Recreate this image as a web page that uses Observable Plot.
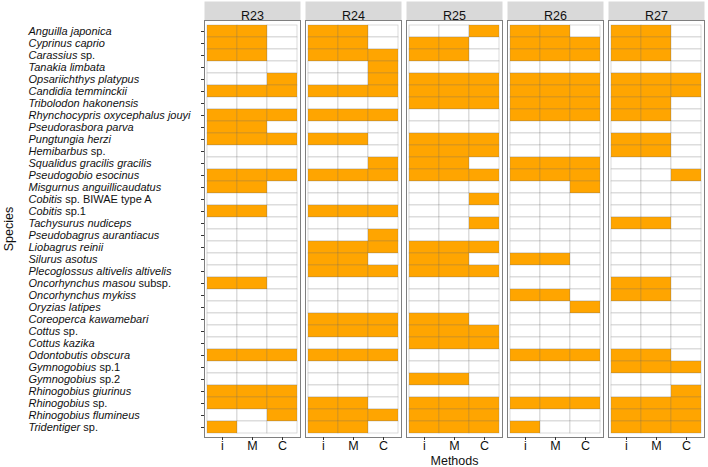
<!DOCTYPE html>
<html>
<head>
<meta charset="utf-8">
<script src="https://cdn.jsdelivr.net/npm/d3@7"></script>
<script src="https://cdn.jsdelivr.net/npm/@observablehq/plot@0.6"></script>
<style>
  body { margin: 0; background: #fff; }
  g[aria-label="y-axis label"] text, g[aria-label="x-axis label"] text { font-size: 12.5px; }
</style>
</head>
<body>
<div id="chart"></div>
<script>
const regions = ["R23", "R24", "R25", "R26", "R27"];
const methods = ["i", "M", "C"];
const species = [
  "Anguilla japonica", "Cyprinus caprio", "Carassius sp.", "Tanakia limbata",
  "Opsariichthys platypus", "Candidia temminckii", "Tribolodon hakonensis",
  "Rhynchocypris oxycephalus jouyi", "Pseudorasbora parva", "Pungtungia herzi",
  "Hemibarbus sp.", "Squalidus gracilis gracilis", "Pseudogobio esocinus",
  "Misgurnus anguillicaudatus", "Cobitis sp. BIWAE type A", "Cobitis sp.1",
  "Tachysurus nudiceps", "Pseudobagrus aurantiacus", "Liobagrus reinii",
  "Silurus asotus", "Plecoglossus altivelis altivelis", "Oncorhynchus masou subsp.",
  "Oncorhynchus mykiss", "Oryzias latipes", "Coreoperca kawamebari", "Cottus sp.",
  "Cottus kazika", "Odontobutis obscura", "Gymnogobius sp.1", "Gymnogobius sp.2",
  "Rhinogobius giurinus", "Rhinogobius sp.", "Rhinogobius flumineus", "Tridentiger sp."
];
// methods detecting each species (same order as species), per region
const R23 = ["iM","iM","iM","","C","iMC","","iMC","iM","iMC","","","iMC","iM","","iM","","","","","","iM","","","","","","iMC","","","iMC","iMC","C","i"];
const R24 = ["iM","iM","iMC","C","C","iMC","","iMC","","iM","","C","iMC","","","iMC","","C","iMC","iM","iMC","","","","iMC","iMC","","iMC","","","","iM","iMC","iM"];
const R25 = ["C","iM","iM","","iMC","iMC","iMC","","","iMC","iMC","iM","iMC","","C","","C","","iMC","iM","iMC","","","","iM","iMC","iMC","","","iM","","iMC","iMC","iMC"];
const R26 = ["iM","iMC","iMC","","iMC","iMC","iMC","iMC","","","","iMC","iMC","C","","","","","","iM","","","iM","C","","","","iMC","","","","iMC","","i"];
const R27 = ["iM","iM","iM","","iMC","iMC","iM","iM","","iM","iM","","C","","","","iM","","","","","iM","iM","","","","","iM","iMC","","C","iMC","iMC","iMC"];
const detections = [R23, R24, R25, R26, R27];

const table = [];
regions.forEach((r, ri) => species.forEach((s, si) => methods.forEach(m =>
  table.push({region: r, species: s, method: m, present: detections[ri][si].includes(m)}))));

const W = 708, H = 467, MT = 20, MB = 30, ML = 203, MR = 2;
const frameH = H - MT - MB;

const chart = Plot.plot({
  width: W, height: H,
  marginLeft: ML, marginRight: MR, marginTop: MT, marginBottom: MB,
  style: {fontFamily: "'Liberation Sans', Arial, sans-serif", fontSize: "11px", color: "#111", background: "#fff"},
  fx: {domain: regions, paddingInner: 0.046, paddingOuter: 0, axis: null, label: null},
  x: {domain: methods, paddingInner: 0, paddingOuter: 0.1},
  y: {domain: species, paddingInner: 0, paddingOuter: 0.1},
  marks: [
    Plot.frame({fill: "#d9d9d9", insetTop: -(MT - 1), insetBottom: frameH}),
    Plot.cell(table, {
      fx: "region", x: "method", y: "species",
      fill: d => d.present ? "#FFA500" : "#ffffff",
      stroke: "rgba(110,110,110,0.35)", strokeWidth: 0.7
    }),
    Plot.frame({stroke: "#7f7f7f", strokeWidth: 1}),
    Plot.text(regions, {fx: d => d, text: d => d, frameAnchor: "top", dy: -9.5, fontSize: 12.5, fill: "#111"}),
    Plot.axisX({tickSize: 3, tickPadding: 1, fontSize: 12.5, label: "Methods", labelAnchor: "center", stroke: "#333"}),
    Plot.axisY({tickSize: 3, tickPadding: 173, textAnchor: "start", fontSize: 11, label: "Species", labelAnchor: "center", stroke: "#333"})
  ]
});
document.getElementById("chart").appendChild(chart);

// italicise scientific names, keep "sp.", "subsp." etc. upright
const upright = /^(sp\.|sp\.\d|subsp\.)$/;
d3.select(chart).selectAll('g[aria-label="y-axis tick label"] text').each(function() {
  const t = d3.select(this);
  const label = t.text();
  const words = label.split(" ");
  let k = words.findIndex(w => upright.test(w));
  if (k < 0) k = words.length;
  const ital = words.slice(0, k).join(" ");
  const rest = words.slice(k).join(" ");
  t.text(null);
  t.append("tspan").attr("font-style", "italic").text(ital);
  if (rest) t.append("tspan").text(" " + rest);
});
</script>
</body>
</html>
